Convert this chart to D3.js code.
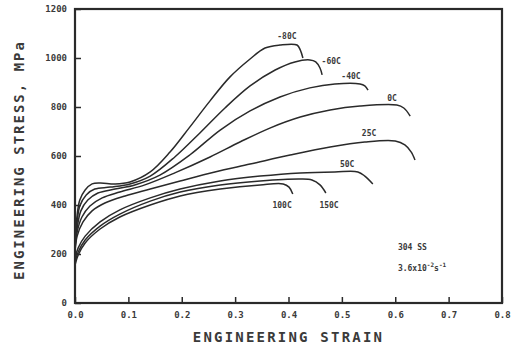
<!DOCTYPE html>
<html><head><meta charset="utf-8">
<script src="https://cdn.jsdelivr.net/npm/d3@7"></script>
<style>
html,body{margin:0;padding:0;background:#fff;}
svg text{font-family:"DejaVu Sans Mono",monospace;font-weight:bold;fill:#3a3a3a;}
</style></head>
<body>
<svg id="chart" width="511" height="354"></svg>
<script>
// ---- data (engineering strain, engineering stress MPa) ----
const xTicks = [0.0, 0.1, 0.2, 0.3, 0.4, 0.5, 0.6, 0.7, 0.8];
const xTickLabels = ["0.0","0.1","0.2","0.3","0.4","0.5","0.6","0.7","0.8"];
const yTicks = [0, 200, 400, 600, 800, 1000, 1200];
const curveNames = ["-80C","-60C","-40C","0C","25C","50C","100C","150C"];
const curveM80 = [[0,257],[0.004,359],[0.009,420],[0.019,461],[0.032,486],[0.047,490],[0.075,486],[0.103,494],[0.141,535],[0.178,616],[0.215,718],[0.253,825],[0.290,922],[0.328,996],[0.356,1041],[0.384,1053],[0.416,1053],[0.422,1033],[0.427,1000]];
const curveM60 = [[0,237],[0.004,331],[0.009,396],[0.021,441],[0.037,465],[0.066,473],[0.103,486],[0.141,518],[0.187,596],[0.234,694],[0.281,796],[0.328,886],[0.375,951],[0.412,984],[0.440,992],[0.451,984],[0.459,959],[0.463,931]];
const curveM40 = [[0,225],[0.004,306],[0.011,376],[0.024,420],[0.043,449],[0.075,465],[0.112,482],[0.159,522],[0.215,604],[0.272,706],[0.328,784],[0.384,841],[0.440,878],[0.487,894],[0.534,894],[0.543,886],[0.549,869]];
const curve0 = [[0,216],[0.004,290],[0.013,351],[0.028,396],[0.051,429],[0.084,453],[0.131,482],[0.187,531],[0.253,596],[0.309,657],[0.365,714],[0.422,759],[0.478,788],[0.534,804],[0.603,808],[0.616,796],[0.628,763]];
const curve25 = [[0,208],[0.004,273],[0.015,331],[0.032,376],[0.056,408],[0.094,437],[0.141,465],[0.197,498],[0.262,535],[0.328,567],[0.403,604],[0.478,637],[0.543,657],[0.600,661],[0.618,645],[0.630,616],[0.637,584]];
const curve50 = [[0,184],[0.006,225],[0.019,273],[0.047,331],[0.084,380],[0.141,429],[0.197,465],[0.272,498],[0.347,518],[0.422,531],[0.487,535],[0.530,535],[0.543,518],[0.558,486]];
const curve100 = [[0,155],[0.006,196],[0.019,245],[0.047,302],[0.084,351],[0.141,400],[0.197,437],[0.272,465],[0.347,482],[0.390,486],[0.401,473],[0.408,445]];
const curve150 = [[0,167],[0.006,208],[0.019,257],[0.047,314],[0.084,363],[0.141,416],[0.197,453],[0.272,482],[0.347,498],[0.422,506],[0.444,502],[0.459,482],[0.470,449]];
const curves = [curveM80, curveM60, curveM40, curve0, curve25, curve50, curve100, curve150];
// label anchor points in data units
const labelStrain = [0.397, 0.480, 0.517, 0.594, 0.551, 0.510, 0.388, 0.476];
const labelStress = [1078, 976, 914, 824, 682, 555, 388, 388];
const noteTitle = "304 SS";
const notePieces = [["3.6x10", 0], ["-2", 1], ["s", 0], ["-1", 1]];

// ---- layout ----
const svg = d3.select("#chart");
const L = 75, R = 502, T = 9, B = 303;
const x = d3.scaleLinear().domain([0, 0.8]).range([L, R]);
const y = d3.scaleLinear().domain([0, 1200]).range([B, T]);
const ink = "#2a2a2a";

// curves
svg.append("g").selectAll("path").data(curves).join("path")
  .attr("d", d => d3.line().x(p => x(p[0])).y(p => y(p[1])).curve(d3.curveCatmullRom.alpha(0.5))(d))
  .attr("fill", "none").attr("stroke", ink).attr("stroke-width", 1.5);

// axes with inward ticks
const xAxis = d3.axisBottom(x).tickValues(xTicks).tickSize(-6).tickFormat((d,i) => xTickLabels[i]).tickPadding(9);
const gx = svg.append("g").attr("transform", `translate(0,${B})`).call(xAxis);
const yAxis = d3.axisLeft(y).tickValues(yTicks).tickSize(-6).tickFormat(d3.format("d")).tickPadding(8);
const gy = svg.append("g").attr("transform", `translate(${L},0)`).call(yAxis);
[gx, gy].forEach(g => {
  g.select(".domain").remove();
  g.selectAll(".tick line").attr("stroke", ink).attr("stroke-width", 1.5);
  g.selectAll(".tick text").style("font-size", "9px").attr("fill", "#444");
});
// frame
svg.append("rect").attr("x", L).attr("y", T).attr("width", R - L).attr("height", B - T)
  .attr("fill", "none").attr("stroke", ink).attr("stroke-width", 2.2);

// curve labels
svg.append("g").selectAll("text").data(curveNames).join("text")
  .attr("x", (d,i) => x(labelStrain[i])).attr("y", (d,i) => y(labelStress[i]))
  .attr("text-anchor", "middle").style("font-size", "8px").text(d => d);

// note
svg.append("text").attr("x", x(0.605)).attr("y", y(216)).style("font-size", "8px").text(noteTitle);
const rate = svg.append("text").attr("x", x(0.605)).attr("y", y(216) + 21).style("font-size", "8px");
rate.selectAll("tspan").data(notePieces).join("tspan")
  .attr("dy", (d,i) => i === 0 ? 0 : (d[1] ? -4 : 4))
  .style("font-size", d => d[1] ? "6px" : "8px")
  .text(d => d[0]);

// axis titles
svg.append("text").attr("x", (L + R) / 2).attr("y", 342).attr("text-anchor", "middle")
  .style("font-size", "14px").style("letter-spacing", "2.2px").text("ENGINEERING STRAIN");
svg.append("text").attr("transform", `translate(24,160) rotate(-90)`).attr("text-anchor", "middle")
  .style("font-size", "14px").style("letter-spacing", "2px").text("ENGINEERING STRESS, MPa");
</script>
</body></html>
